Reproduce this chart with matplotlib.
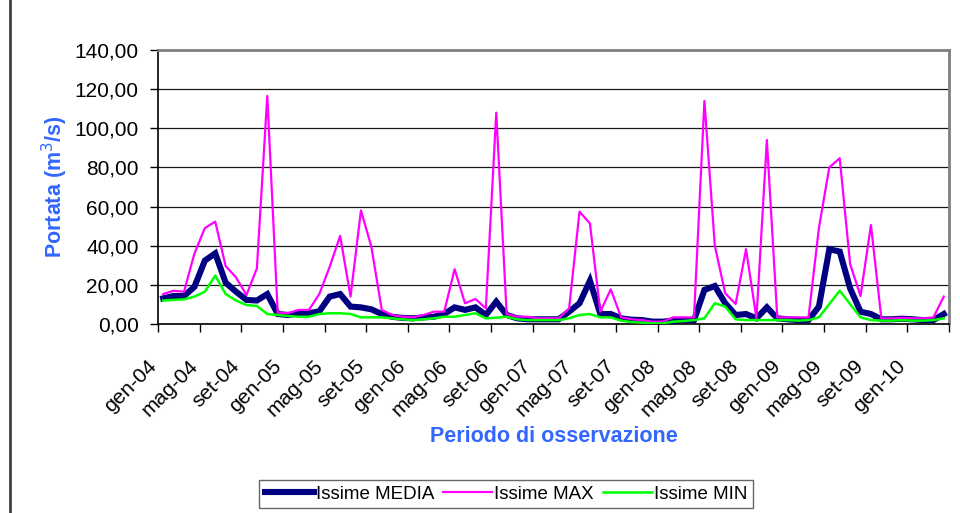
import matplotlib
matplotlib.use("Agg")
import matplotlib.pyplot as plt
import matplotlib.transforms as mtransforms
from matplotlib.lines import Line2D
import numpy as np

plt.rcParams['font.family'] = ['Liberation Sans', 'DejaVu Sans']

# Monthly discharge at Issime, January 2004 - April 2010 (m3/s)
media = [13.1, 14.3, 14.3, 19.0, 32.4, 36.1, 21.1, 16.5, 12.3, 12.0, 15.3, 5.1,
         4.6, 5.5, 5.5, 6.5, 14.0, 15.3, 8.9, 8.5, 7.5, 5.1, 3.7, 3.1,
         2.9, 3.4, 3.7, 5.1, 8.5, 7.2, 8.5, 4.6, 11.4, 4.6, 2.9, 2.4,
         2.4, 2.4, 2.4, 6.3, 10.6, 22.1, 5.1, 5.1, 2.9, 2.2, 2.0, 1.2,
         1.2, 1.7, 2.0, 2.0, 17.4, 19.4, 10.6, 4.6, 5.1, 2.9, 8.5, 2.9,
         2.4, 2.0, 2.0, 8.9, 38.2, 37.0, 18.2, 6.3, 5.1, 2.4, 2.4, 2.7,
         2.4, 2.0, 2.0, 5.1]
massimo = [15.3, 17.0, 16.5, 36.0, 49.0, 52.3, 29.6, 23.8, 14.8, 28.4, 116.5, 5.8,
           5.5, 7.2, 7.2, 15.3, 29.3, 45.0, 14.0, 58.0, 39.5, 7.2, 4.6, 3.7,
           3.4, 4.6, 6.3, 6.3, 28.0, 10.6, 12.8, 8.0, 108.0, 5.1, 3.7, 3.7,
           2.9, 2.9, 2.9, 8.0, 57.4, 51.4, 6.3, 17.7, 3.4, 2.4, 2.0, 1.2,
           1.2, 3.4, 3.4, 3.4, 114.0, 40.0, 15.7, 10.2, 38.2, 2.9, 94.0, 3.4,
           3.4, 3.4, 3.4, 49.0, 80.0, 84.7, 30.7, 14.3, 50.6, 2.9, 2.9, 3.2,
           2.9, 2.9, 3.4, 14.0]
minimo = [12.0, 12.3, 12.6, 14.0, 16.5, 24.7, 15.3, 12.0, 9.7, 9.2, 5.1, 4.6,
          4.1, 3.7, 3.7, 5.1, 5.5, 5.5, 5.1, 3.4, 3.4, 3.4, 2.9, 2.4,
          2.0, 2.4, 2.9, 3.7, 3.7, 4.6, 5.5, 2.9, 3.2, 3.7, 2.4, 2.0,
          2.0, 2.0, 2.0, 2.9, 4.6, 5.1, 3.4, 3.4, 1.7, 1.0, 0.7, 0.3,
          0.3, 1.2, 1.5, 2.0, 2.9, 10.6, 8.9, 2.4, 2.0, 2.0, 2.0, 2.0,
          2.0, 1.7, 2.0, 3.4, 10.2, 17.0, 10.2, 3.4, 2.0, 1.7, 1.7, 2.0,
          1.7, 1.7, 2.0, 2.9]
tick_labels = ['gen-04', 'mag-04', 'set-04', 'gen-05', 'mag-05', 'set-05',
               'gen-06', 'mag-06', 'set-06', 'gen-07', 'mag-07', 'set-07',
               'gen-08', 'mag-08', 'set-08', 'gen-09', 'mag-09', 'set-09',
               'gen-10']
y_ticks = [0, 20, 40, 60, 80, 100, 120, 140]

W, H, DPI = 960, 513, 100
fig = plt.figure(figsize=(W / DPI, H / DPI), dpi=DPI)
ax = fig.add_axes([158 / W, 1 - 324 / H, (949 - 158) / W, (324 - 50) / H])

x = np.arange(len(media))
ax.plot(x, media, color='#000080', lw=4.4, solid_joinstyle='miter', zorder=3)
ax.plot(x, massimo, color='#FF00FF', lw=1.6, zorder=4)
ax.plot(x, minimo, color='#00FF00', lw=1.8, zorder=5)

ax.set_xlim(-0.5, len(media) - 0.5)
ax.set_ylim(0, 140)

# y axis
ax.set_yticks(y_ticks)
ax.set_yticklabels([f"{v:.2f}".replace('.', ',') for v in y_ticks], fontsize=15)
ax.yaxis.grid(True, color='#1a1a1a', lw=0.9)
ax.set_axisbelow(True)

# category axis: tick marks between months, a label every four months
ax.set_xticks(np.arange(-0.5, len(media), 4))
ax.set_xticklabels([])
ax.tick_params(axis='both', direction='out', length=6, width=1, color='black')
ax.tick_params(axis='y', pad=8)

off = mtransforms.ScaledTranslation(-10 / DPI, -39 / DPI, fig.dpi_scale_trans)
trans = mtransforms.blended_transform_factory(ax.transData, ax.transAxes) + off
for i, lab in enumerate(tick_labels):
    ax.text(i * 4, 0, lab, transform=trans, rotation=45, rotation_mode='anchor',
            ha='right', va='center', fontsize=15)

for side in ('left', 'bottom'):
    ax.spines[side].set_color('black')
    ax.spines[side].set_linewidth(1.2)
for side in ('top', 'right'):
    ax.spines[side].set_color('#808080')
    ax.spines[side].set_linewidth(2)

blue = '#3366FF'
fig.text(55 / W, 1 - 187 / H, 'Portata (m$^{3}$/s)', rotation=90, ha='center',
         va='center', fontsize=15.5, fontweight='bold', color=blue)
fig.text(554 / W, 1 - 436 / H, 'Periodo di osservazione', ha='center',
         va='center', fontsize=15.5, fontweight='bold', color=blue)

handles = [Line2D([], [], color='#000080', lw=4.4),
           Line2D([], [], color='#FF00FF', lw=1.6),
           Line2D([], [], color='#00FF00', lw=1.8)]
leg = fig.legend(handles, ['Issime MEDIA', 'Issime MAX', 'Issime MIN'],
                 loc='center', bbox_to_anchor=(506 / W, 1 - 494 / H), ncol=3,
                 fontsize=13.5, frameon=True, fancybox=False, handlelength=2.6,
                 handletextpad=0.1, columnspacing=0.5, borderpad=0.3,
                 borderaxespad=0)
leg.get_frame().set_edgecolor('#404040')
leg.get_frame().set_linewidth(1.0)

# chart frame edge
fig.add_artist(Line2D([10 / W, 10 / W], [0, 1], transform=fig.transFigure,
                      color='#404040', lw=2))

fig.savefig('out.png', dpi=DPI)
